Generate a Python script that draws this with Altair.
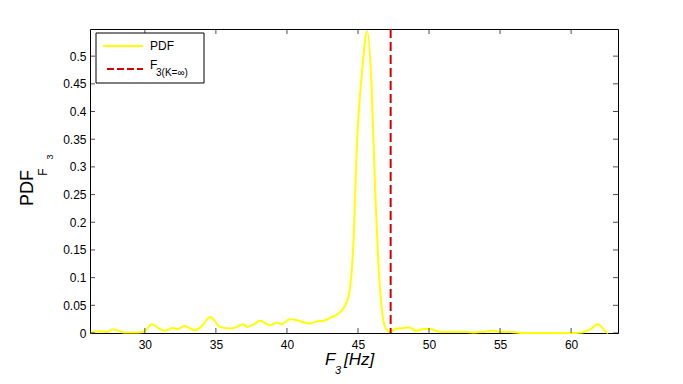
import altair as alt
import pandas as pd

# ---- data ----
freq = [26.2, 26.8, 27.3, 27.8, 28.5, 29.2, 29.9, 30.5, 31.0, 31.4, 32.0, 32.3,
        32.8, 33.5, 34.0, 34.6, 35.3, 36.0, 36.5, 36.9, 37.2, 37.7, 38.1, 38.8,
        39.3, 39.6, 40.2, 40.7, 41.1, 41.6, 42.1, 42.6, 43.0, 43.5, 44.0, 44.4,
        44.7, 44.9, 45.3, 45.65, 45.96, 46.2, 46.4, 46.66, 46.9, 47.24, 47.7,
        48.2, 48.6, 49.1, 49.6, 50.05, 50.8, 51.5, 52.6, 53.2, 53.8, 54.5, 55.0,
        55.7, 56.6, 57.5, 58.3, 59.0, 59.8, 60.8, 61.3, 61.9, 62.5, 62.6]
pdf = [0.001, 0.003, 0.002, 0.0066, 0.001, 0.001, 0.002, 0.016, 0.008, 0.004,
       0.009, 0.007, 0.0126, 0.005, 0.012, 0.029, 0.011, 0.008, 0.011, 0.016,
       0.011, 0.016, 0.022, 0.014, 0.019, 0.016, 0.025, 0.023, 0.020, 0.017,
       0.021, 0.022, 0.027, 0.033, 0.045, 0.075, 0.174, 0.325, 0.475, 0.545,
       0.445, 0.264, 0.144, 0.047, 0.011, 0.002, 0.008, 0.009, 0.010, 0.004,
       0.007, 0.007, 0.002, 0.002, 0.002, 0.001, 0.002, 0.004, 0.002, 0.002,
       0.0, 0.0, 0.0, 0.0, 0.0, 0.001, 0.006, 0.016, 0.001, 0.0]
k_inf = [47.3]
x_ticks = [30, 35, 40, 45, 50, 55, 60]
y_ticks = [0, 0.05, 0.1, 0.15, 0.2, 0.25, 0.3, 0.35, 0.4, 0.45, 0.5]
x_domain = [26.14, 63.3]
y_domain = [0, 0.549]

W, H = 528, 304
FONT = "Liberation Sans"
YELLOW = "#ffff00"
RED = "#d40000"

df = pd.DataFrame({"f": freq, "p": pdf})
xs = alt.Scale(domain=x_domain, nice=False, zero=False)
ys = alt.Scale(domain=y_domain, nice=False, zero=False)

xaxis = alt.Axis(values=x_ticks, format="d", ticks=False, tickSize=0, domain=False,
                 grid=False, title=None, labelFontSize=12, labelFont=FONT,
                 labelColor="black", labelPadding=6, labelOverlap=False,
                 labelBound=False, labelFlush=False)
yaxis = alt.Axis(values=y_ticks, format=".2~f", ticks=False, tickSize=0, domain=False,
                 grid=False, title=None, labelFontSize=12, labelFont=FONT,
                 labelColor="black", labelPadding=4, labelOverlap=False,
                 labelBound=False, labelFlush=False)

line = alt.Chart(df).mark_line(color=YELLOW, strokeWidth=2, interpolate="monotone").encode(
    x=alt.X("f:Q", scale=xs, axis=xaxis),
    y=alt.Y("p:Q", scale=ys, axis=yaxis),
)

vline = alt.Chart(pd.DataFrame({"k": k_inf})).mark_rule(
    color=RED, strokeWidth=2, strokeDash=[9, 4]
).encode(x=alt.X("k:Q", scale=xs, axis=xaxis), y=alt.value(0), y2=alt.value(H))

xt = pd.DataFrame({"t": x_ticks})
yt = pd.DataFrame({"t": y_ticks})
tick_bot = alt.Chart(xt).mark_tick(orient="vertical", size=5, thickness=1, color="black").encode(
    x=alt.X("t:Q", scale=xs, axis=xaxis), y=alt.value(H - 2.5))
tick_top = alt.Chart(xt).mark_tick(orient="vertical", size=5, thickness=1, color="black").encode(
    x=alt.X("t:Q", scale=xs, axis=xaxis), y=alt.value(2.5))
tick_left = alt.Chart(yt).mark_tick(orient="horizontal", size=5, thickness=1, color="black").encode(
    y=alt.Y("t:Q", scale=ys, axis=yaxis), x=alt.value(2.5))
tick_right = alt.Chart(yt).mark_tick(orient="horizontal", size=5, thickness=1, color="black").encode(
    y=alt.Y("t:Q", scale=ys, axis=yaxis), x=alt.value(W - 2.5))


def txt(s, x, y, size, align="left", angle=0, style="normal"):
    return alt.Chart(pd.DataFrame({"s": [s]})).mark_text(
        align=align, baseline="middle", fontSize=size, font=FONT, angle=angle,
        fontStyle=style, color="black"
    ).encode(text="s:N", x=alt.value(x), y=alt.value(y))


# legend
leg_box = alt.Chart(pd.DataFrame({"a": [0]})).mark_rect(
    fill="white", stroke="black", strokeWidth=1
).encode(x=alt.value(6), x2=alt.value(114), y=alt.value(4), y2=alt.value(54))
leg_y = alt.Chart(pd.DataFrame({"a": [0]})).mark_rule(color=YELLOW, strokeWidth=2).encode(
    x=alt.value(13), x2=alt.value(53), y=alt.value(17))
leg_r = alt.Chart(pd.DataFrame({"a": [0]})).mark_rule(
    color=RED, strokeWidth=2, strokeDash=[7, 3]).encode(
    x=alt.value(17), x2=alt.value(53), y=alt.value(40))

layers = [
    line, vline, tick_bot, tick_top, tick_left, tick_right,
    leg_box, leg_y, leg_r,
    txt("PDF", 60, 17, 12),
    txt("F", 60, 36, 12),
    txt("3(K=\u221e)", 66, 44, 10),
    # y title
    txt("PDF", -62, 159, 18, align="center", angle=270),
    txt("F", -47, 143, 12, align="center", angle=270),
    txt("3", -40, 128, 9, align="center", angle=270),
    # x title
    txt("F", 235, 331, 17, style="italic"),
    txt("3", 245, 342, 11, style="italic"),
    txt("[Hz]", 254, 331, 17, style="italic"),
]

chart = alt.layer(*layers).properties(
    width=W, height=H,
    autosize=alt.AutoSizeParams(type="none"),
    padding={"left": 82, "top": 21, "right": 57, "bottom": 43},
    background="white",
).configure_view(stroke="black", strokeWidth=1)

chart.save("out.html", embed_options={"renderer": "svg", "actions": False})
